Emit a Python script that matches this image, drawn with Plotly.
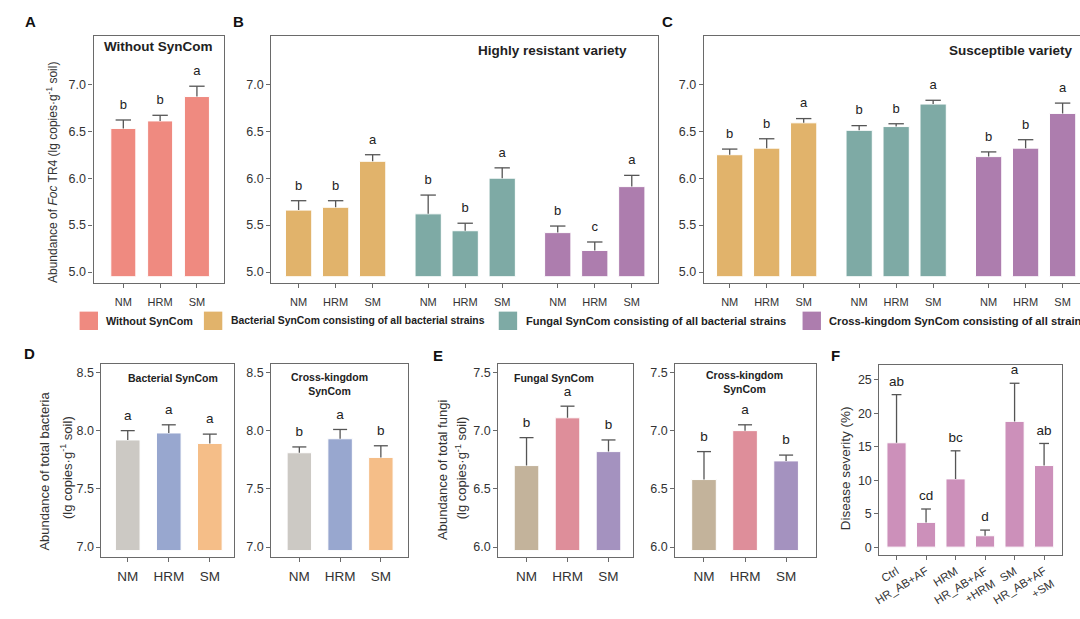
import plotly.graph_objects as go

W, H = 1080, 619
FONT = "Liberation Sans, Arial, sans-serif"
LINE = "#6a6a6a"
TXT = "#222222"
ERR = "#555555"

mods = ["NM", "HRM", "SM"]

# ---------------- data ----------------
# Panel A: without SynCom
A_vals = [6.53, 6.61, 6.87]
A_err = [0.09, 0.06, 0.11]
A_sig = ["b", "b", "a"]

# Panel B: highly resistant variety
B_bact_vals = [5.66, 5.69, 6.18]
B_bact_err = [0.10, 0.07, 0.07]
B_bact_sig = ["b", "b", "a"]
B_fung_vals = [5.62, 5.44, 6.00]
B_fung_err = [0.20, 0.08, 0.11]
B_fung_sig = ["b", "b", "a"]
B_cross_vals = [5.42, 5.23, 5.91]
B_cross_err = [0.07, 0.09, 0.12]
B_cross_sig = ["b", "c", "a"]

# Panel C: susceptible variety
C_bact_vals = [6.25, 6.32, 6.59]
C_bact_err = [0.06, 0.10, 0.045]
C_bact_sig = ["b", "b", "a"]
C_fung_vals = [6.51, 6.55, 6.79]
C_fung_err = [0.05, 0.03, 0.04]
C_fung_sig = ["b", "b", "a"]
C_cross_vals = [6.23, 6.32, 6.69]
C_cross_err = [0.05, 0.09, 0.11]
C_cross_sig = ["b", "b", "a"]

# Panel D: total bacteria
D_bact_vals = [7.92, 7.98, 7.89]
D_bact_err = [0.08, 0.07, 0.08]
D_bact_sig = ["a", "a", "a"]
D_cross_vals = [7.81, 7.93, 7.77]
D_cross_err = [0.05, 0.08, 0.10]
D_cross_sig = ["b", "a", "b"]

# Panel E: total fungi
E_fung_vals = [6.70, 7.11, 6.82]
E_fung_err = [0.24, 0.10, 0.10]
E_fung_sig = ["b", "a", "b"]
E_cross_vals = [6.58, 7.00, 6.74]
E_cross_err = [0.24, 0.05, 0.05]
E_cross_sig = ["b", "a", "b"]

# Panel F: disease severity
F_labels = ["Ctrl", "HR_AB+AF", "HRM", "HR_AB+AF<br>+HRM", "SM", "HR_AB+AF<br>+SM"]
F_vals = [15.6, 3.7, 10.2, 1.7, 18.8, 12.2]
F_err = [7.2, 2.0, 4.2, 0.85, 5.7, 3.3]
F_sig = ["ab", "cd", "bc", "d", "a", "ab"]

legend_labels = ["Without SynCom",
                 "Bacterial SynCom consisting of all bacterial strains",
                 "Fungal SynCom consisting of all bacterial strains",
                 "Cross-kingdom SynCom consisting of all strains"]

COL_NONE = "#EF8A80"
COL_BACT = "#E1B36B"
COL_FUNG = "#7EAAA5"
COL_CROSS = "#AD7DAE"
legend_colors = [COL_NONE, COL_BACT, COL_FUNG, COL_CROSS]
D_colors = ["#CCC9C4", "#98A7CF", "#F5BE88"]
E_colors = ["#C3B39B", "#DE8E9A", "#A492BF"]
F_color = "#CC90BA"

fig = go.Figure()


def add_bars(k, xs, vals, errs, sig, color, base, width, cap, tsize):
    fig.add_trace(go.Bar(
        x=xs, y=[v - base for v in vals], base=base, width=width,
        marker=dict(color=color, line=dict(color="white", width=1)),
        xaxis="x%d" % k, yaxis="y%d" % k, showlegend=False, hoverinfo="skip"))
    tops = [v + e for v, e in zip(vals, errs)]
    fig.add_trace(go.Scatter(
        x=xs, y=tops, mode="markers+text", text=sig, textposition="top center",
        textfont=dict(size=tsize, color=TXT, family=FONT),
        marker=dict(symbol="line-ew", size=cap, color=ERR, line=dict(width=1.3, color=ERR)),
        error_y=dict(type="data", symmetric=False, array=[0] * len(vals), arrayminus=errs,
                     width=0, thickness=1.3, color=ERR),
        xaxis="x%d" % k, yaxis="y%d" % k, showlegend=False, cliponaxis=False, hoverinfo="skip"))


# A
add_bars(1, [0, 1, 2], A_vals, A_err, A_sig, COL_NONE, 4.95, 0.68, 11, 13)
# B, C
gx = [[g * 3.5 + i for i in range(3)] for g in range(3)]
for k, sets in [(2, [(B_bact_vals, B_bact_err, B_bact_sig), (B_fung_vals, B_fung_err, B_fung_sig),
                     (B_cross_vals, B_cross_err, B_cross_sig)]),
                (3, [(C_bact_vals, C_bact_err, C_bact_sig), (C_fung_vals, C_fung_err, C_fung_sig),
                     (C_cross_vals, C_cross_err, C_cross_sig)])]:
    for g, (v, e, s) in enumerate(sets):
        add_bars(k, gx[g], v, e, s, [COL_BACT, COL_FUNG, COL_CROSS][g], 4.95, 0.71, 11, 13)
# D, E
add_bars(4, [0, 1, 2], D_bact_vals, D_bact_err, D_bact_sig, D_colors, 6.97, 0.6, 10, 13.5)
add_bars(5, [0, 1, 2], D_cross_vals, D_cross_err, D_cross_sig, D_colors, 6.97, 0.6, 10, 13.5)
add_bars(6, [0, 1, 2], E_fung_vals, E_fung_err, E_fung_sig, E_colors, 5.97, 0.6, 10, 13.5)
add_bars(7, [0, 1, 2], E_cross_vals, E_cross_err, E_cross_sig, E_colors, 5.97, 0.6, 10, 13.5)
# F
add_bars(8, list(range(6)), F_vals, F_err, F_sig, F_color, 0, 0.65, 7, 13.5)


def xd(l, r):
    return [l / W, r / W]


def yd(t, b):
    return [1 - b / H, 1 - t / H]


def axis(fs, **kw):
    d = dict(showline=True, linecolor=LINE, linewidth=1.2, ticks="outside", ticklen=4,
             tickwidth=1, tickcolor=LINE, tickfont=dict(size=fs, color="#333", family=FONT),
             showgrid=False, zeroline=False, fixedrange=True)
    d.update(kw)
    return d


top_y = dict(range=[4.88, 7.52], tickvals=[5.0, 5.5, 6.0, 6.5, 7.0], tickformat=".1f")
allx = [x for g in gx for x in g]
layout_axes = {}
# A
layout_axes["xaxis"] = axis(11, domain=xd(88, 219), range=[-0.81, 2.73], tickvals=[0, 1, 2],
                            ticktext=mods, mirror=True, anchor="y", ticklabelstandoff=4)
layout_axes["yaxis"] = axis(12.5, domain=yd(36, 287), mirror=True, anchor="x", **top_y)
# B
layout_axes["xaxis2"] = axis(11, domain=xd(266.7, 655.7), range=[-0.74, 9.71], tickvals=allx,
                             ticktext=mods * 3, mirror=True, anchor="y2", ticklabelstandoff=4)
layout_axes["yaxis2"] = axis(12.5, domain=yd(36, 287), mirror=True, anchor="x2", **top_y)
# C
layout_axes["xaxis3"] = axis(11, domain=xd(701.7, 1080), range=[-0.70, 9.47], tickvals=allx,
                             ticktext=mods * 3, mirror=True, anchor="y3", ticklabelstandoff=4)
layout_axes["yaxis3"] = axis(12.5, domain=yd(36, 287), mirror=False, anchor="x3", **top_y)
# D
D_y = dict(range=[6.915, 8.576], tickvals=[7.0, 7.5, 8.0, 8.5], tickformat=".1f")
layout_axes["xaxis4"] = axis(13.5, domain=xd(96, 229.3), range=[-0.64, 2.59], tickvals=[0, 1, 2],
                             ticktext=mods, mirror=True, anchor="y4", ticklabelstandoff=3)
layout_axes["yaxis4"] = axis(12.5, domain=yd(368.3, 564.3), mirror=True, anchor="x4", **D_y)
layout_axes["xaxis5"] = axis(13.5, domain=xd(266.7, 404), range=[-0.69, 2.66], tickvals=[0, 1, 2],
                             ticktext=mods, mirror=True, anchor="y5", ticklabelstandoff=3)
layout_axes["yaxis5"] = axis(12.5, domain=yd(368.3, 564.3), mirror=True, anchor="x5", **D_y)
# E
E_y = dict(range=[5.915, 7.576], tickvals=[6.0, 6.5, 7.0, 7.5], tickformat=".1f")
layout_axes["xaxis6"] = axis(13.5, domain=xd(495, 631), range=[-0.69, 2.61], tickvals=[0, 1, 2],
                             ticktext=mods, mirror=True, anchor="y6", ticklabelstandoff=3)
layout_axes["yaxis6"] = axis(12.5, domain=yd(368.3, 564.3), mirror=True, anchor="x6", **E_y)
layout_axes["xaxis7"] = axis(13.5, domain=xd(673, 815), range=[-0.70, 2.74], tickvals=[0, 1, 2],
                             ticktext=mods, mirror=True, anchor="y7", ticklabelstandoff=3)
layout_axes["yaxis7"] = axis(12.5, domain=yd(368.3, 564.3), mirror=True, anchor="x7", **E_y)
# F
layout_axes["xaxis8"] = axis(11.5, domain=xd(878.3, 1061.7), range=[-0.58, 5.6],
                             tickvals=list(range(6)), ticktext=F_labels, tickangle=-32,
                             mirror=True, anchor="y8")
layout_axes["yaxis8"] = axis(12.5, domain=yd(369.3, 562.3), range=[-1.18, 27.3],
                             tickvals=[0, 5, 10, 15, 20, 25], mirror=True, anchor="x8")

ann = []


def text(x, y, s, size, bold=False, angle=0, xanchor="center", color=TXT):
    ann.append(dict(x=x / W, y=1 - y / H, xref="paper", yref="paper", text=("<b>%s</b>" % s) if bold else s,
                    showarrow=False, xanchor=xanchor, yanchor="middle", textangle=angle,
                    borderpad=0, font=dict(size=size, color=color, family=FONT)))


# panel letters
for s, x, y in [("A", 18, 22), ("B", 227, 22), ("C", 659, 22), ("D", 17, 358), ("E", 428, 360), ("F", 829, 360)]:
    text(x, y, s, 15, bold=True, xanchor="left", color="#111")

# panel titles
text(153.8, 47, "Without SynCom", 13.5, bold=True)
text(549.5, 51, "Highly resistant variety", 13.5, bold=True)
text(1073.5, 51, "Susceptible variety", 13.5, bold=True, xanchor="right")
text(168.3, 383.3, "Bacterial SynCom", 10.5, bold=True)
text(325, 389, "Cross-kingdom<br>SynCom", 10.5, bold=True)
text(551.5, 383.3, "Fungal SynCom", 10.5, bold=True)
text(742.2, 386.5, "Cross-kingdom<br>SynCom", 10.5, bold=True)

# axis titles
text(45.5, 175, "Abundance of <i>Foc</i> TR4 (lg copies·g<sup>-1</sup> soil)", 12, angle=-90, color="#333")
text(39, 477, "Abundance of total bacteria", 13, angle=-90, color="#333")
text(60.5, 474, "(lg copies·g<sup>-1</sup> soil)", 13, angle=-90, color="#333")
text(439.5, 476, "Abundance of total fungi", 13, angle=-90, color="#333")
text(457, 474, "(lg copies·g<sup>-1</sup> soil)", 13, angle=-90, color="#333")
text(845, 474, "Disease severity (%)", 13.5, angle=-90, color="#333")

# legend
shapes = []
sq_x = [74, 199, 495.5, 801]
leg_fs = [10.8, 10.4, 11.1, 11.2]
for lbl, col, x0, fs in zip(legend_labels, legend_colors, sq_x, leg_fs):
    shapes.append(dict(type="rect", xref="paper", yref="paper", x0=x0 / W, x1=(x0 + 18.5) / W,
                       y0=1 - 334.3 / H, y1=1 - 315.7 / H, fillcolor=col, line=dict(width=0)))
    text(x0 + 26, 325, lbl, fs, bold=True, xanchor="left")

fig.update_layout(width=W, height=H, margin=dict(l=0, r=0, t=0, b=0),
                  paper_bgcolor="white", plot_bgcolor="white", barmode="overlay",
                  annotations=ann, shapes=shapes, showlegend=False,
                  font=dict(family=FONT, color=TXT), **layout_axes)

fig.write_html("out.html")
